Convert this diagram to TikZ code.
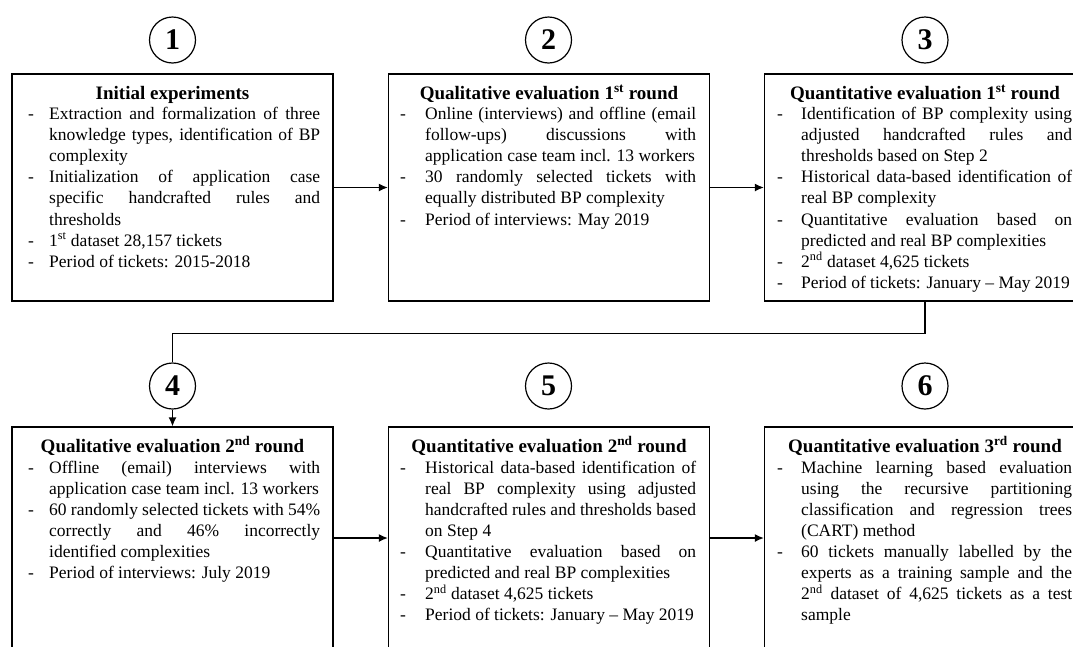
\documentclass[tikz,border=0pt]{standalone}
\usepackage{fontspec}
\setmainfont{Liberation Serif}
\usetikzlibrary{arrows.meta}
\hyphenpenalty=10000
\exhyphenpenalty=10000
\newcommand\bula[1]{\leavevmode\llap{\hbox to #1{-\hfil}}}
\newcommand\bul[1]{\par\noindent\llap{\hbox to #1{-\hfil}}}
\begin{document}
\begin{tikzpicture}[x=1pt,y=-1pt,
 box/.style={draw, line width=1.3pt, minimum width=321pt, inner sep=0},
 num/.style={draw, circle, line width=1.2pt, minimum size=46pt, inner sep=0, font=\fontsize{30}{30}\bfseries\selectfont},
 ttl/.style={anchor=base, inner sep=0, font=\fontsize{19}{23}\bfseries\selectfont},
 body/.style={anchor=base west, inner sep=0, text width=271pt, align=justify, font=\fontsize{17.5}{21.1}\selectfont},
 arr/.style={line width=1.3pt, -{Latex[length=9pt,width=8pt]}},
 ln/.style={line width=1.3pt}]
\useasboundingbox (0,0) rectangle (1073,646);
\clip (0,0) rectangle (1073,646);
% boxes
\node[box, minimum height=227pt] (b1) at (172.5,187.5) {};
\node[box, minimum height=227pt] (b2) at (549,187.5) {};
\node[box, minimum height=227pt] (b3) at (925,187.5) {};
\node[box, minimum height=222pt] (b4) at (172.5,538) {};
\node[box, minimum height=222pt] (b5) at (549,538) {};
\node[box, minimum height=222pt] (b6) at (925,538) {};
% step numbers
\node[num] (c1) at (172.5,40) {1};
\node[num] (c2) at (548.5,40) {2};
\node[num] (c3) at (925,40) {3};
\node[num] (c4) at (172.5,386) {4};
\node[num] (c5) at (548.5,386) {5};
\node[num] (c6) at (925,386) {6};
% titles
\node[ttl] (t1) at (172.5,99) {Initial experiments};
\node[ttl] (t2) at (549,99) {Qualitative evaluation 1\textsuperscript{st} round};
\node[ttl] (t3) at (925,99) {Quantitative evaluation 1\textsuperscript{st} round};
\node[ttl] (t4) at (172.5,452) {Qualitative evaluation 2\textsuperscript{nd} round};
\node[ttl] (t5) at (549,452) {Quantitative evaluation 2\textsuperscript{nd} round};
\node[ttl] (t6) at (925,452) {Quantitative evaluation 3\textsuperscript{rd} round};
% bodies
\node[body] (d1) at (49,119.5) {%
\bula{21pt}Extraction and formalization of three\linebreak knowledge types, identification of BP\linebreak complexity
\bul{21pt}Initialization of application case\linebreak specific handcrafted rules and\linebreak thresholds
\bul{21pt}1\textsuperscript{st} dataset 28,157 tickets
\bul{21pt}Period of tickets: 2015-2018};
\node[body] (d2) at (425,119.5) {%
\bula{25pt}Online (interviews) and offline (email\linebreak follow-ups) discussions with\linebreak application case team incl. 13 workers
\bul{25pt}30 randomly selected tickets with\linebreak equally distributed BP complexity
\bul{25pt}Period of interviews: May 2019};
\node[body] (d3) at (801,119.5) {%
\bula{24pt}Identification of BP complexity using\linebreak adjusted handcrafted rules and\linebreak thresholds based on Step 2
\bul{24pt}Historical data-based identification of\linebreak real BP complexity
\bul{24pt}Quantitative evaluation based on\linebreak predicted and real BP complexities
\bul{24pt}2\textsuperscript{nd} dataset 4,625 tickets
\bul{24pt}Period of tickets: January – May 2019};
\node[body] (d4) at (49,473) {%
\bula{21pt}Offline (email) interviews with\linebreak application case team incl. 13 workers
\bul{21pt}60 randomly selected tickets with 54\%\linebreak correctly and 46\% incorrectly\linebreak identified complexities
\bul{21pt}Period of interviews: July 2019};
\node[body] (d5) at (425,473) {%
\bula{25pt}Historical data-based identification of\linebreak real BP complexity using adjusted\linebreak handcrafted rules and thresholds based\linebreak on Step 4
\bul{25pt}Quantitative evaluation based on\linebreak predicted and real BP complexities
\bul{25pt}2\textsuperscript{nd} dataset 4,625 tickets
\bul{25pt}Period of tickets: January – May 2019};
\node[body] (d6) at (801,473) {%
\bula{24pt}Machine learning based evaluation\linebreak using the recursive partitioning\linebreak classification and regression trees\linebreak (CART) method
\bul{24pt}60 tickets manually labelled by the\linebreak experts as a training sample and the\linebreak 2\textsuperscript{nd} dataset of 4,625 tickets as a test\linebreak sample};
% connectors
\draw[arr] (b1.east) -- (b2.west);
\draw[arr] (b2.east) -- (b3.west);
\draw[ln] (b3.south) -- ++(0,32) coordinate (k) -| (c4.north);
\draw[arr] (c4.south) -- (b4.north);
\draw[arr] (b4.east) -- (b5.west);
\draw[arr] (b5.east) -- (b6.west);
\end{tikzpicture}
\end{document}
